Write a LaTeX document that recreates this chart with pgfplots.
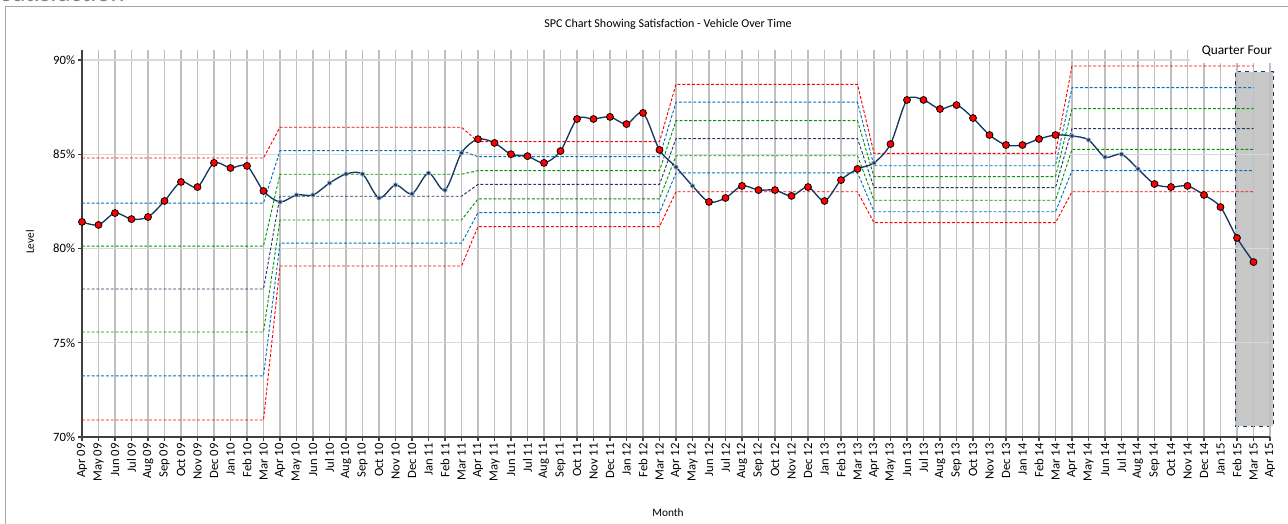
\documentclass[border=0pt]{standalone}
\usepackage{fontspec}
\setmainfont{Carlito}
\usepackage{pgfplots}
\pgfplotsset{compat=1.18}
\usepackage{pgfplotstable}
\definecolor{navy}{RGB}{23,55,94}
\definecolor{uclc}{RGB}{255,0,0}
\definecolor{sigtwo}{RGB}{0,112,192}
\definecolor{sigone}{RGB}{0,150,0}
\definecolor{meanc}{RGB}{31,56,100}
\definecolor{vgrid}{RGB}{191,191,191}
\definecolor{hgrid}{RGB}{217,217,217}
\definecolor{axisc}{RGB}{64,64,64}
\definecolor{qfill}{RGB}{200,200,200}
\definecolor{dotedge}{RGB}{150,170,195}
\definecolor{framec}{RGB}{166,166,166}

\pgfplotstableread{
x y c
0 81.41 r
1 81.25 r
2 81.88 r
3 81.56 r
4 81.67 r
5 82.52 r
6 83.53 r
7 83.26 r
8 84.54 r
9 84.27 r
10 84.38 r
11 83.05 r
12 82.47 s
13 82.84 s
14 82.84 s
15 83.47 s
16 83.95 s
17 83.95 s
18 82.68 s
19 83.37 s
20 82.90 s
21 84.00 s
22 83.10 s
23 85.07 s
24 85.80 r
25 85.60 r
26 85.00 r
27 84.90 r
28 84.54 r
29 85.17 r
30 86.87 r
31 86.87 r
32 86.98 r
33 86.60 r
34 87.19 r
35 85.23 r
36 84.32 s
37 83.32 s
38 82.47 r
39 82.68 r
40 83.32 r
41 83.10 r
42 83.10 r
43 82.79 r
44 83.26 r
45 82.52 r
46 83.63 r
47 84.22 r
48 84.54 s
49 85.54 r
50 87.88 r
51 87.88 r
52 87.40 r
53 87.61 r
54 86.92 r
55 86.02 r
56 85.49 r
57 85.49 r
58 85.81 r
59 86.02 r
60 85.97 s
61 85.76 s
62 84.85 s
63 85.00 s
64 84.22 s
65 83.42 r
66 83.26 r
67 83.32 r
68 82.84 r
69 82.20 r
70 80.56 r
71 79.28 r
}\data

\pgfplotstableread{
x ucl ptwo pone mn mone mtwo lcl
0 84.80 82.41 80.13 77.85 75.57 73.24 70.90
11 84.80 82.41 80.13 77.85 75.57 73.24 70.90
12 86.43 85.19 83.94 82.77 81.51 80.28 79.07
23 86.43 85.19 83.94 82.77 81.51 80.28 79.07
24 85.67 84.87 84.13 83.40 82.63 81.90 81.16
35 85.67 84.87 84.13 83.40 82.63 81.90 81.16
36 88.71 87.76 86.78 85.83 84.92 84.01 83.01
47 88.71 87.76 86.78 85.83 84.92 84.01 83.01
48 85.05 84.39 83.81 83.23 82.56 81.95 81.37
59 85.05 84.39 83.81 83.23 82.56 81.95 81.37
60 89.68 88.53 87.42 86.36 85.26 84.13 83.01
71 89.68 88.53 87.42 86.36 85.26 84.13 83.01
}\limits

\begin{document}
\begin{tikzpicture}[x=1pt,y=1pt]
\begin{axis}[
  at={(61.5pt,65.25pt)}, anchor=south west,
  scale only axis, width=891pt, height=290.25pt,
  set layers, clip=false,
  xmin=0, xmax=72, ymin=70, ymax=90.53,
  axis x line=bottom, axis y line=left,
  axis line style={-, color=axisc, line width=1.4pt},
  xtick={0,...,72},
  xticklabels={Apr 09,May 09,Jun 09,Jul 09,Aug 09,Sep 09,Oct 09,Nov 09,Dec 09,Jan 10,Feb 10,Mar 10,Apr 10,May 10,Jun 10,Jul 10,Aug 10,Sep 10,Oct 10,Nov 10,Dec 10,Jan 11,Feb 11,Mar 11,Apr 11,May 11,Jun 11,Jul 11,Aug 11,Sep 11,Oct 11,Nov 11,Dec 11,Jan 12,Feb 12,Mar 12,Apr 12,May 12,Jun 12,Jul 12,Aug 12,Sep 12,Oct 12,Nov 12,Dec 12,Jan 13,Feb 13,Mar 13,Apr 13,May 13,Jun 13,Jul 13,Aug 13,Sep 13,Oct 13,Nov 13,Dec 13,Jan 14,Feb 14,Mar 14,Apr 14,May 14,Jun 14,Jul 14,Aug 14,Sep 14,Oct 14,Nov 14,Dec 14,Jan 15,Feb 15,Mar 15,Apr 15},
  x tick label style={rotate=90, anchor=east, font=\fontsize{9.5}{10}\selectfont, inner sep=1.5pt},
  ytick={70,75,80,85,90},
  yticklabels={70\%,75\%,80\%,85\%,90\%},
  y tick label style={font=\fontsize{9.5}{10}\selectfont, inner sep=2pt},
  tick align=outside, major tick length=3pt,
  tick style={color=axisc, line width=1pt},
  xmajorgrids, ymajorgrids,
  major x grid style={color=vgrid, line width=0.9pt},
  major y grid style={color=hgrid, line width=0.9pt},
]
\addplot[on layer=axis background, draw=navy, dashed, fill=qfill, line width=0.6pt] coordinates {(69.88,70.58) (72.18,70.58) (72.18,89.38) (69.88,89.38)} -- cycle;
\addplot[uclc, line width=0.7pt, dash pattern=on 2.2pt off 1.4pt] table[x=x,y=ucl] {\limits};
\addplot[uclc, line width=0.7pt, dash pattern=on 2.2pt off 1.4pt] table[x=x,y=lcl] {\limits};
\addplot[sigtwo, line width=0.7pt, dash pattern=on 2.2pt off 1.4pt] table[x=x,y=ptwo] {\limits};
\addplot[sigtwo, line width=0.7pt, dash pattern=on 2.2pt off 1.4pt] table[x=x,y=mtwo] {\limits};
\addplot[sigone, line width=0.7pt, dash pattern=on 2.2pt off 1.4pt] table[x=x,y=pone] {\limits};
\addplot[sigone, line width=0.7pt, dash pattern=on 2.2pt off 1.4pt] table[x=x,y=mone] {\limits};
\addplot[meanc, line width=0.7pt, dash pattern=on 2.2pt off 1.4pt] table[x=x,y=mn] {\limits};
\addplot[navy, line width=1pt, smooth, tension=0.5, no marks] table[x=x,y=y] {\data};
\addplot[scatter, only marks, scatter src=explicit symbolic,
  scatter/classes={
    r={mark=*, mark size=2.6pt, fill=red, draw=black, line width=0.6pt},
    s={mark=*, mark size=1.6pt, fill=navy, draw=dotedge, line width=0.6pt}}]
  table[x=x,y=y,meta=c] {\data};
\node[on layer=axis foreground, fill=white, minimum width=70pt, minimum height=18pt, inner sep=0pt, font=\fontsize{10}{12}\selectfont] at (axis cs:70,90.5) {Quarter Four};
\end{axis}
\node[font=\fontsize{9}{11}\selectfont] at (501,375) {SPC Chart Showing Satisfaction - Vehicle Over Time};
\node[rotate=90, font=\fontsize{8.5}{10}\selectfont] at (22.5,211.5) {Level};
\node[font=\fontsize{8.5}{10}\selectfont] at (501,8.25) {Month};
\pgfresetboundingbox
\useasboundingbox (0,0) rectangle (966,393);
\node[anchor=base west, text=gray, font=\fontsize{20}{24}\selectfont, inner sep=0pt] at (0,391.5) {Satisfaction};
\draw[framec, line width=0.75pt] (3.75,-20) rectangle (1000,387.75);
\end{tikzpicture}
\end{document}
